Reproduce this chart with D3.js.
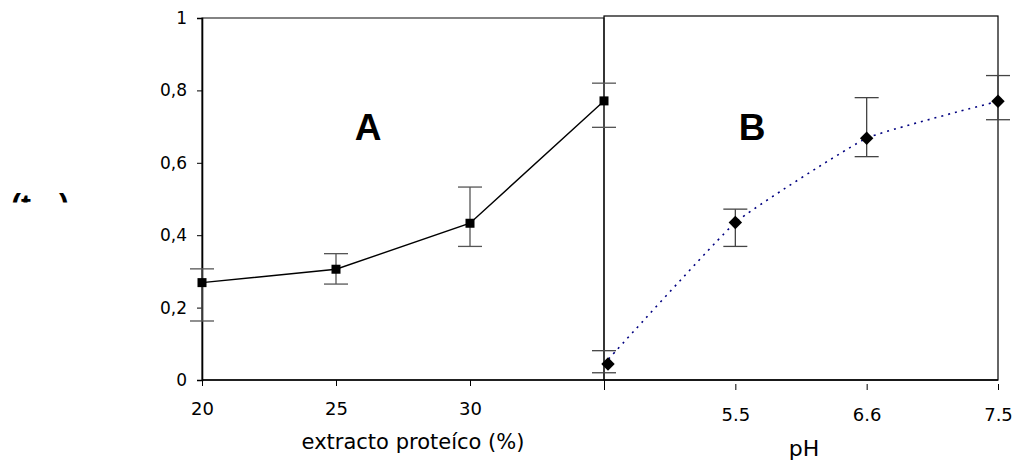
<!DOCTYPE html>
<html>
<head>
<meta charset="utf-8">
<script src="https://cdn.jsdelivr.net/npm/d3@7"></script>
<style>
  body { margin: 0; background: #fff; }
  text { font-family: "DejaVu Sans", sans-serif; }
</style>
</head>
<body>
<div id="chart"></div>
<script>
// panel A: protein extract
const extracto = [20, 25, 30, 35];
const extractoLabels = ["20", "25", "30", ""];
const valuesA = [0.269, 0.306, 0.433, 0.771];
const upperA = [0.307, 0.349, 0.533, 0.820];
const lowerA = [0.163, 0.265, 0.369, 0.698];

// panel B: pH
const pH = ["4.0", "5.5", "6.6", "7.5"];
const pHLabels = ["", "5.5", "6.6", "7.5"];
const valuesB = [0.044, 0.435, 0.668, 0.770];
const upperB = [0.081, 0.472, 0.780, 0.841];
const lowerB = [0.020, 0.369, 0.617, 0.719];

const yTicks = [0, 0.2, 0.4, 0.6, 0.8, 1];

const width = 1016, height = 460;
const svg = d3.select("#chart").append("svg")
    .attr("width", width)
    .attr("height", height);

const yScale = d3.scaleLinear().domain([0, 1]).range([380, 18]);
const xA = d3.scaleLinear().domain([20, 35]).range([202, 604]);
const xB = d3.scalePoint().domain(pH).range([604, 998]);

const dataA = extracto.map((x, i) => ({x, v: valuesA[i], hi: upperA[i], lo: lowerA[i]}));
const dataB = pH.map((x, i) => ({x, v: valuesB[i], hi: upperB[i], lo: lowerB[i]}));

// frames
svg.append("rect")
    .attr("x", xA(20)).attr("y", yScale(1))
    .attr("width", xA(35) - xA(20)).attr("height", yScale(0) - yScale(1))
    .attr("fill", "none").attr("stroke", "#333").attr("stroke-width", 1.2);
svg.append("rect")
    .attr("x", xB(pH[0])).attr("y", yScale(1) - 2)
    .attr("width", xB(pH[3]) - xB(pH[0])).attr("height", yScale(0) - yScale(1) + 2)
    .attr("fill", "none").attr("stroke", "#000").attr("stroke-width", 1.2);

// y axis
const yAxis = d3.axisLeft(yScale)
    .tickValues(yTicks)
    .tickSize(5)
    .tickPadding(10)
    .tickFormat(d => String(d).replace(".", ","));
const yG = svg.append("g").attr("transform", `translate(${xA(20)},0)`).call(yAxis);
yG.select(".domain").attr("stroke-width", 1.6);
yG.selectAll("text").attr("font-size", 17).attr("font-family", "DejaVu Sans");

// x axis A
const xAxisA = d3.axisBottom(xA)
    .tickValues(extracto)
    .tickSize(6)
    .tickPadding(16)
    .tickFormat((d, i) => extractoLabels[i]);
const xgA = svg.append("g").attr("transform", `translate(0,${yScale(0)})`).call(xAxisA);
xgA.select(".domain").remove();
xgA.selectAll("text").attr("font-size", 18).attr("font-family", "DejaVu Sans");

// x axis B
const xAxisB = d3.axisBottom(xB)
    .tickSize(6)
    .tickPadding(18)
    .tickFormat((d, i) => pHLabels[i]);
const xgB = svg.append("g").attr("transform", `translate(0,${yScale(0) + 4})`).call(xAxisB);
xgB.select(".domain").remove();
xgB.selectAll("text").attr("font-size", 18).attr("font-family", "DejaVu Sans");

// baseline across both panels
svg.append("line")
    .attr("x1", xA(20)).attr("x2", xB(pH[3]))
    .attr("y1", yScale(0)).attr("y2", yScale(0))
    .attr("stroke", "#000").attr("stroke-width", 1.6);

// error bars
function errorBars(data, xf, color) {
    const g = svg.append("g").attr("stroke", color).attr("stroke-width", 1.3);
    data.forEach(d => {
        const x = xf(d.x);
        g.append("line").attr("x1", x).attr("x2", x)
            .attr("y1", yScale(d.hi)).attr("y2", yScale(d.lo));
        [d.hi, d.lo].forEach(v => {
            g.append("line").attr("x1", x - 12).attr("x2", x + 12)
                .attr("y1", yScale(v)).attr("y2", yScale(v));
        });
    });
}
errorBars(dataA, xA, "#555");
errorBars(dataB, xB, "#444");

// line A
const lineA = d3.line().x(d => xA(d.x)).y(d => yScale(d.v));
svg.append("path").datum(dataA)
    .attr("d", lineA)
    .attr("fill", "none").attr("stroke", "#000").attr("stroke-width", 1.4);

svg.append("g").selectAll("rect").data(dataA).join("rect")
    .attr("x", d => xA(d.x) - 4.5).attr("y", d => yScale(d.v) - 4.5)
    .attr("width", 9).attr("height", 9)
    .attr("fill", "#000");

// line B (lightly smoothed, dotted)
const lineB = d3.line().x(d => xB(d.x)).y(d => yScale(d.v)).curve(d3.curveCardinal.tension(0.65));
svg.append("path").datum(dataB)
    .attr("d", lineB)
    .attr("fill", "none").attr("stroke", "#000080")
    .attr("stroke-width", 1.6).attr("stroke-dasharray", "2,5");

const diamond = d3.symbol().type(d3.symbolDiamond2).size(115);
svg.append("g").selectAll("path").data(dataB).join("path")
    .attr("d", diamond)
    .attr("transform", d => `translate(${xB(d.x) + (d.x === pH[0] ? 4 : 0)},${yScale(d.v)})`)
    .attr("fill", "#000");

// panel letters
svg.append("text").attr("x", 368).attr("y", 140)
    .attr("text-anchor", "middle")
    .style("font-family", "'Liberation Sans', Arial, sans-serif")
    .attr("font-weight", "bold").attr("font-size", 37)
    .text("A");
svg.append("text").attr("x", 752).attr("y", 140)
    .attr("text-anchor", "middle")
    .style("font-family", "'Liberation Sans', Arial, sans-serif")
    .attr("font-weight", "bold").attr("font-size", 37)
    .text("B");

// axis titles
svg.append("text").attr("x", 413).attr("y", 449)
    .attr("text-anchor", "middle").attr("font-size", 21)
    .text("extracto proteíco (%)");
svg.append("text").attr("x", 804).attr("y", 456)
    .attr("text-anchor", "middle").attr("font-size", 22)
    .text("pH");

// clipped y title remnant on the left
svg.append("clipPath").attr("id", "ytitle-clip")
    .append("rect").attr("x", 0).attr("y", 0).attr("width", 120).attr("height", 202.5);
const yt = svg.append("g").attr("clip-path", "url(#ytitle-clip)");
yt.append("text").attr("x", 11).attr("y", 215)
    .style("font-family", "'Liberation Sans', Arial, sans-serif")
    .attr("font-weight", "bold").attr("font-size", 30)
    .text("(t");
yt.append("text").attr("x", 59).attr("y", 215)
    .style("font-family", "'Liberation Sans', Arial, sans-serif")
    .attr("font-weight", "bold").attr("font-size", 30)
    .text(")");
</script>
</body>
</html>
